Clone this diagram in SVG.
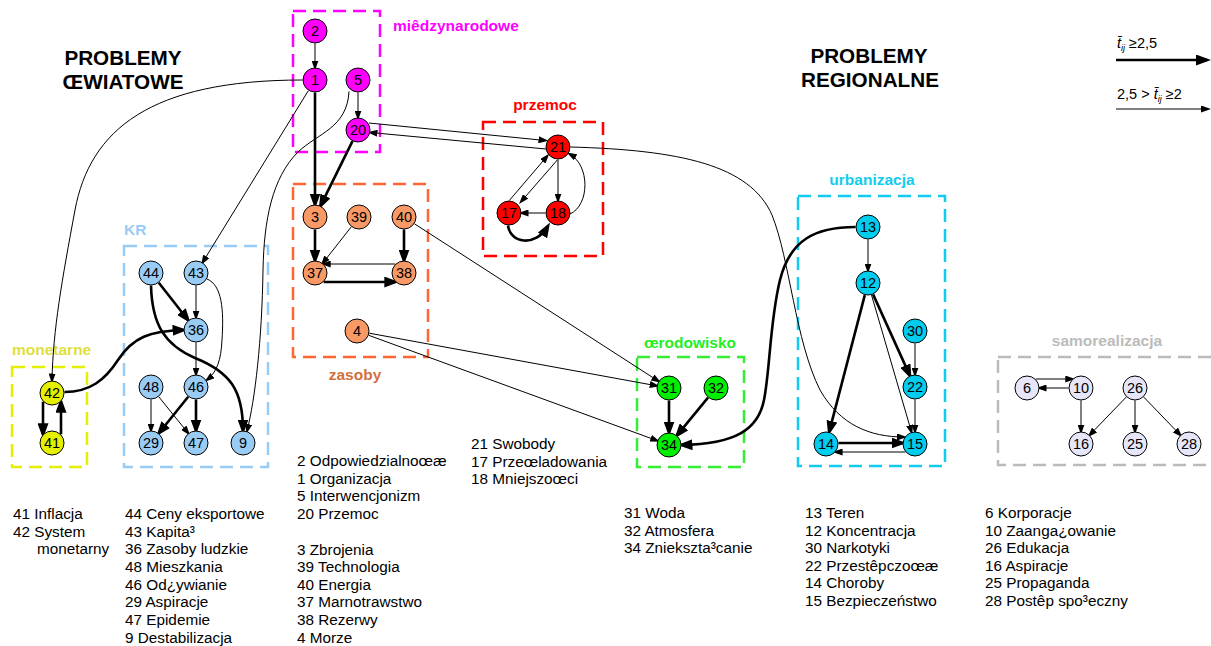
<svg xmlns="http://www.w3.org/2000/svg" width="1211" height="646" viewBox="0 0 1211 646">
<defs>
<marker id="a1" markerUnits="userSpaceOnUse" markerWidth="10" markerHeight="7" refX="7" refY="3.5" orient="auto"><path d="M0,0 L10,3.5 L0,7 z" fill="#000"/></marker>
<marker id="a2" markerUnits="userSpaceOnUse" markerWidth="15" markerHeight="11" refX="11" refY="5.5" orient="auto"><path d="M0,0 L15,5.5 L0,11 z" fill="#000"/></marker>
<style>
.thin{fill:none;stroke:#000;stroke-width:1;marker-end:url(#a1)}
.thick{fill:none;stroke:#000;stroke-width:2.6;marker-end:url(#a2)}
.node circle{stroke:#000;stroke-width:1}
.node text{font-family:'Liberation Sans',Arial,sans-serif;font-size:14.5px;text-anchor:middle;fill:#000}
.mag circle{fill:#ff00ff}
.ora circle{fill:#f99a66}
.red circle{fill:#ff0000}
.blu circle{fill:#99ccf5}
.yel circle{fill:#e4f000}
.grn circle{fill:#00ee00}
.cya circle{fill:#00ccee}
.gry circle{fill:#e6e6f8}
.box{fill:none;stroke-width:2.5;stroke-dasharray:13 7}
.lbl{font-family:'Liberation Sans',Arial,sans-serif;font-size:15.5px;font-weight:bold}
.title{font-family:'Liberation Sans',Arial,sans-serif;font-size:20.7px;font-weight:bold;text-anchor:middle;fill:#000}
.lst{font-family:'Liberation Sans',Arial,sans-serif;font-size:15.3px;fill:#000}
.leg{font-family:'Liberation Sans',Arial,sans-serif;font-size:14.5px;fill:#000}
</style>
</defs>

<g id="titles">
<text class="title" x="123" y="65">PROBLEMY</text>
<text class="title" x="123" y="89">ŒWIATOWE</text>
<text class="title" x="869" y="63">PROBLEMY</text>
<text class="title" x="870" y="87">REGIONALNE</text>
</g>

<g id="clusters">
<g id="cl-miedzynarodowe"><rect class="box" x="293" y="11" width="87" height="141" stroke="#ff00ff"/><text class="lbl" x="393" y="31" fill="#ff00ff">miêdzynarodowe</text></g>
<g id="cl-zasoby"><rect class="box" x="293" y="184" width="135" height="173" stroke="#ff6633"/><text class="lbl" x="355" y="380" fill="#d2703c" text-anchor="middle">zasoby</text></g>
<g id="cl-przemoc"><rect class="box" x="483" y="122" width="120" height="134" stroke="#ff0000"/><text class="lbl" x="545" y="110" fill="#ff0000" text-anchor="middle">przemoc</text></g>
<g id="cl-kr"><rect class="box" x="124" y="246" width="144" height="221" stroke="#99ccf5"/><text class="lbl" x="124" y="235" fill="#99ccf5">KR</text></g>
<g id="cl-monetarne"><rect class="box" x="12" y="367" width="75" height="100" stroke="#e4f000"/><text class="lbl" x="12" y="355" fill="#e0e03c">monetarne</text></g>
<g id="cl-srodowisko"><rect class="box" x="637" y="357" width="107" height="110" stroke="#33ee33"/><text class="lbl" x="690" y="348" fill="#22ee22" text-anchor="middle">œrodowisko</text></g>
<g id="cl-urbanizacja"><rect class="box" x="798" y="196" width="147" height="270" stroke="#11ccee"/><text class="lbl" x="872" y="185" fill="#11ccee" text-anchor="middle">urbanizacja</text></g>
<g id="cl-samorealizacja"><rect class="box" x="998" y="357" width="230" height="108" stroke="#bbbbbb"/><text class="lbl" x="1107" y="346" fill="#bbbbbb" text-anchor="middle">samorealizacja</text></g>
</g>

<g id="connectors">
<path class="thin" d="M315,43.5 L315,67.5"/>
<path class="thin" d="M358,92.5 L358,117.5"/>
<path class="thin" d="M308.4,90.6 L202.6,262.4"/>
<path class="thin" d="M349,91.5 C347,128 318,133 298,152 C272,178 264,220 263,270 C262,340 255,400 247,431"/>
<path class="thin" d="M302.5,80 C150,80 90,130 75,210 C62,280 53,330 52,380.5"/>
<path class="thin" d="M196,285.5 L196,317.5"/>
<path class="thin" d="M207,279 C222,285 224,310 222,340 C221,360 217,372 207,380"/>
<path class="thin" d="M196,342.5 L196,374.5"/>
<path class="thin" d="M151,399.5 L151,430.5"/>
<path class="thin" d="M158.8,396.8 L188.2,433.2"/>
<path class="thin" d="M351.3,226.8 L322.7,263.2"/>
<path class="thin" d="M395.3,264 L323.7,264"/>
<path class="thin" d="M414.5,223.8 L658.5,381.2"/>
<path class="thin" d="M369.3,333.2 L656.7,385.8"/>
<path class="thin" d="M368.7,335.3 L657.3,440.7"/>
<path class="thin" d="M369,123 L545.5,140.5"/>
<path class="thin" d="M546,149 L370.5,132.5"/>
<path class="thin" d="M558,159.5 L558,200.5"/>
<path class="thin" d="M509.3,200.5 L547.3,156"/>
<path class="thin" d="M557.3,160 L521,201.7"/>
<path class="thin" d="M545.5,213 L521.5,213"/>
<path class="thin" d="M570,214 C590,205 590,165 569.5,154"/>
<path class="thin" d="M570.5,147 C680,150 750,165 772,215 C790,260 795,340 820,390 C840,425 870,437 904,437"/>
<path class="thin" d="M868,239.5 L868,270.5"/>
<path class="thin" d="M871.5,295 L911.5,432"/>
<path class="thin" d="M915,343.5 L915,374.5"/>
<path class="thin" d="M915,399.5 L915,431.5"/>
<path class="thin" d="M905.4,452 L835.6,452"/>
<path class="thin" d="M1035.7,379 L1072.3,379"/>
<path class="thin" d="M1068.5,388 L1039.5,388"/>
<path class="thin" d="M1081,400.5 L1081,431.5"/>
<path class="thin" d="M1126.3,397 L1089.7,435"/>
<path class="thin" d="M1135,400.5 L1135,431.5"/>
<path class="thin" d="M1143.7,397 L1180.3,435"/>
<path class="thick" d="M315,92.5 L315,204.5"/>
<path class="thick" d="M352.5,141.2 L320.5,205.8"/>
<path class="thick" d="M158.8,282.8 L188.2,320.2"/>
<path class="thick" d="M151,285.5 C152,325 165,345 195,358 C230,372 243,390 243,430.5"/>
<path class="thick" d="M64.5,392 C90,392 105,380 118,360 C133,337 150,331 183.5,330"/>
<path class="thick" d="M43,401.7 L43,434.3"/>
<path class="thick" d="M61,434.3 L61,401.7"/>
<path class="thick" d="M188.2,396.8 L158.8,433.2"/>
<path class="thick" d="M196,399.5 L196,430.5"/>
<path class="thick" d="M315,229.5 L315,260.5"/>
<path class="thick" d="M404,229.5 L404,260.5"/>
<path class="thick" d="M323.7,282 L395.3,282"/>
<path class="thick" d="M508,225.5 C510,243 535,248 548,226"/>
<path class="thick" d="M669,400.5 L669,432.5"/>
<path class="thick" d="M708,397.6 L677,435.4"/>
<path class="thick" d="M855.5,227 C815,227 790,240 780,280 C770,320 770,370 764,400 C758,430 735,444 681.5,445"/>
<path class="thick" d="M864.8,295.1 L829.2,431.9"/>
<path class="thick" d="M873.1,294.4 L909.9,375.6"/>
<path class="thick" d="M838.5,443 L902.5,443"/>
</g>

<g id="nodes">
<g id="node-2" class="node mag"><circle cx="315" cy="31" r="12"/><text x="315" y="36">2</text></g>
<g id="node-1" class="node mag"><circle cx="315" cy="80" r="12"/><text x="315" y="85">1</text></g>
<g id="node-5" class="node mag"><circle cx="358" cy="80" r="12"/><text x="358" y="85">5</text></g>
<g id="node-20" class="node mag"><circle cx="358" cy="130" r="12"/><text x="358" y="135">20</text></g>
<g id="node-21" class="node red"><circle cx="558" cy="147" r="12"/><text x="558" y="152">21</text></g>
<g id="node-17" class="node red"><circle cx="509" cy="213" r="12"/><text x="509" y="218">17</text></g>
<g id="node-18" class="node red"><circle cx="558" cy="213" r="12"/><text x="558" y="218">18</text></g>
<g id="node-3" class="node ora"><circle cx="315" cy="217" r="12"/><text x="315" y="222">3</text></g>
<g id="node-39" class="node ora"><circle cx="359" cy="217" r="12"/><text x="359" y="222">39</text></g>
<g id="node-40" class="node ora"><circle cx="404" cy="217" r="12"/><text x="404" y="222">40</text></g>
<g id="node-37" class="node ora"><circle cx="315" cy="273" r="12"/><text x="315" y="278">37</text></g>
<g id="node-38" class="node ora"><circle cx="404" cy="273" r="12"/><text x="404" y="278">38</text></g>
<g id="node-4" class="node ora"><circle cx="357" cy="331" r="12"/><text x="357" y="336">4</text></g>
<g id="node-44" class="node blu"><circle cx="151" cy="273" r="12"/><text x="151" y="278">44</text></g>
<g id="node-43" class="node blu"><circle cx="196" cy="273" r="12"/><text x="196" y="278">43</text></g>
<g id="node-36" class="node blu"><circle cx="196" cy="330" r="12"/><text x="196" y="335">36</text></g>
<g id="node-48" class="node blu"><circle cx="151" cy="387" r="12"/><text x="151" y="392">48</text></g>
<g id="node-46" class="node blu"><circle cx="196" cy="387" r="12"/><text x="196" y="392">46</text></g>
<g id="node-29" class="node blu"><circle cx="151" cy="443" r="12"/><text x="151" y="448">29</text></g>
<g id="node-47" class="node blu"><circle cx="196" cy="443" r="12"/><text x="196" y="448">47</text></g>
<g id="node-9" class="node blu"><circle cx="243" cy="443" r="12"/><text x="243" y="448">9</text></g>
<g id="node-42" class="node yel"><circle cx="52" cy="393" r="12"/><text x="52" y="398">42</text></g>
<g id="node-41" class="node yel"><circle cx="52" cy="443" r="12"/><text x="52" y="448">41</text></g>
<g id="node-31" class="node grn"><circle cx="669" cy="388" r="12"/><text x="669" y="393">31</text></g>
<g id="node-32" class="node grn"><circle cx="716" cy="388" r="12"/><text x="716" y="393">32</text></g>
<g id="node-34" class="node grn"><circle cx="669" cy="445" r="12"/><text x="669" y="450">34</text></g>
<g id="node-13" class="node cya"><circle cx="868" cy="227" r="12"/><text x="868" y="232">13</text></g>
<g id="node-12" class="node cya"><circle cx="868" cy="283" r="12"/><text x="868" y="288">12</text></g>
<g id="node-30" class="node cya"><circle cx="915" cy="331" r="12"/><text x="915" y="336">30</text></g>
<g id="node-22" class="node cya"><circle cx="915" cy="387" r="12"/><text x="915" y="392">22</text></g>
<g id="node-14" class="node cya"><circle cx="826" cy="444" r="12"/><text x="826" y="449">14</text></g>
<g id="node-15" class="node cya"><circle cx="915" cy="444" r="12"/><text x="915" y="449">15</text></g>
<g id="node-6" class="node gry"><circle cx="1027" cy="388" r="12"/><text x="1027" y="393">6</text></g>
<g id="node-10" class="node gry"><circle cx="1081" cy="388" r="12"/><text x="1081" y="393">10</text></g>
<g id="node-26" class="node gry"><circle cx="1135" cy="388" r="12"/><text x="1135" y="393">26</text></g>
<g id="node-16" class="node gry"><circle cx="1081" cy="444" r="12"/><text x="1081" y="449">16</text></g>
<g id="node-25" class="node gry"><circle cx="1135" cy="444" r="12"/><text x="1135" y="449">25</text></g>
<g id="node-28" class="node gry"><circle cx="1189" cy="444" r="12"/><text x="1189" y="449">28</text></g>
</g>

<g id="legend">
<text class="leg" x="1117" y="48"><tspan font-style="italic">t̄</tspan><tspan font-style="italic" font-size="9" dy="3">ij</tspan><tspan dy="-3"> ≥2,5</tspan></text>
<path class="thick" d="M1116,60 L1207,60"/>
<text class="leg" x="1117" y="99">2,5 &gt; <tspan font-style="italic">t̄</tspan><tspan font-style="italic" font-size="9" dy="3">ij</tspan><tspan dy="-3"> ≥2</tspan></text>
<path class="thin" d="M1116,109 L1208,109"/>
</g>

<g id="descriptions">
<text class="lst" x="13" y="519">41 Inflacja</text>
<text class="lst" x="13" y="537">42 System</text>
<text class="lst" x="37" y="554">monetarny</text>
<text class="lst" x="125"><tspan x="125" y="519">44 Ceny eksportowe</tspan><tspan x="125" y="537">43 Kapita³</tspan><tspan x="125" y="554">36 Zasoby ludzkie</tspan><tspan x="125" y="572">48 Mieszkania</tspan><tspan x="125" y="590">46 Od¿ywianie</tspan><tspan x="125" y="607">29 Aspiracje</tspan><tspan x="125" y="625">47 Epidemie</tspan><tspan x="125" y="643">9 Destabilizacja</tspan></text>
<text class="lst" x="297"><tspan x="297" y="466">2 Odpowiedzialnoœæ</tspan><tspan x="297" y="484">1 Organizacja</tspan><tspan x="297" y="501">5 Interwencjonizm</tspan><tspan x="297" y="519">20 Przemoc</tspan><tspan x="297" y="555">3 Zbrojenia</tspan><tspan x="297" y="572">39 Technologia</tspan><tspan x="297" y="590">40 Energia</tspan><tspan x="297" y="607">37 Marnotrawstwo</tspan><tspan x="297" y="625">38 Rezerwy</tspan><tspan x="297" y="643">4 Morze</tspan></text>
<text class="lst" x="471"><tspan x="471" y="449">21 Swobody</tspan><tspan x="471" y="467">17 Przeœladowania</tspan><tspan x="471" y="484">18 Mniejszoœci</tspan></text>
<text class="lst" x="624"><tspan x="624" y="518">31 Woda</tspan><tspan x="624" y="536">32 Atmosfera</tspan><tspan x="624" y="553">34 Zniekszta³canie</tspan></text>
<text class="lst" x="805"><tspan x="805" y="518">13 Teren</tspan><tspan x="805" y="536">12 Koncentracja</tspan><tspan x="805" y="553">30 Narkotyki</tspan><tspan x="805" y="571">22 Przestêpczoœæ</tspan><tspan x="805" y="588">14 Choroby</tspan><tspan x="805" y="606">15 Bezpieczeństwo</tspan></text>
<text class="lst" x="985"><tspan x="985" y="518">6 Korporacje</tspan><tspan x="985" y="536">10 Zaanga¿owanie</tspan><tspan x="985" y="553">26 Edukacja</tspan><tspan x="985" y="571">16 Aspiracje</tspan><tspan x="985" y="588">25 Propaganda</tspan><tspan x="985" y="606">28 Postêp spo³eczny</tspan></text>
</g>
</svg>
